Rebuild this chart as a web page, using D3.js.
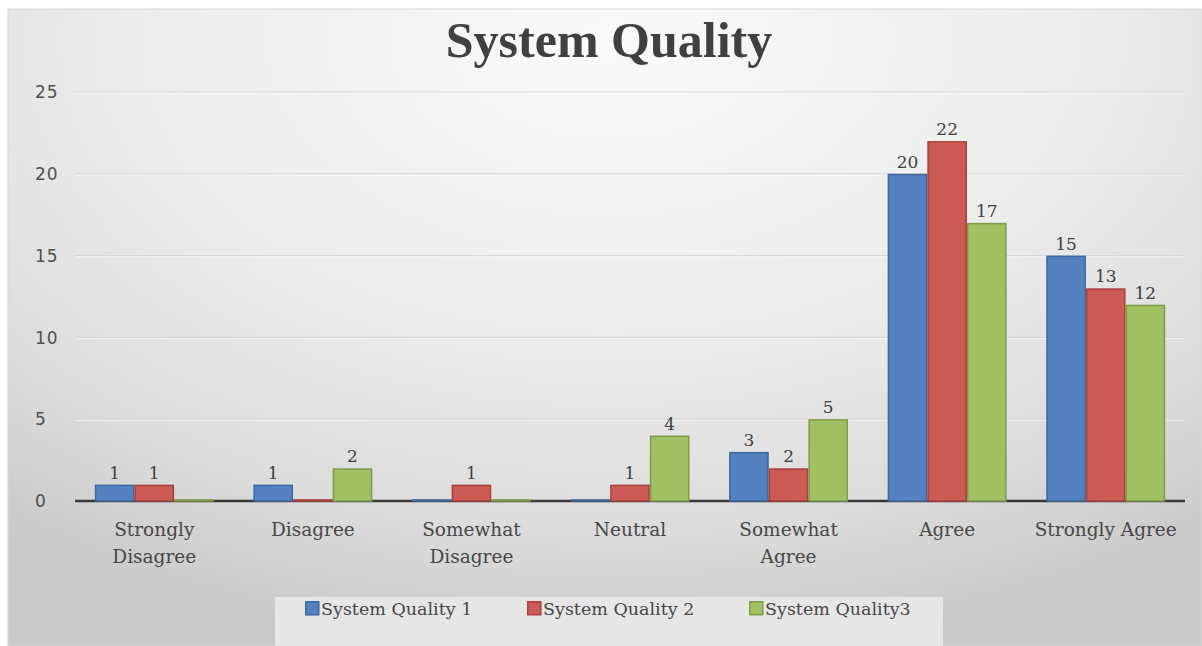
<!DOCTYPE html>
<html>
<head>
<meta charset="utf-8">
<script src="https://cdn.jsdelivr.net/npm/d3@7"></script>
<style>
  html, body { margin: 0; padding: 0; background: #fff; }
  svg { display: block; }
</style>
</head>
<body>
<svg id="chart" width="1202" height="646"></svg>
<script>
// Survey response counts per category, one series per question
const categories = ["Strongly Disagree", "Disagree", "Somewhat Disagree", "Neutral", "Somewhat Agree", "Agree", "Strongly Agree"];
const categoryLines = [["Strongly", "Disagree"], ["Disagree"], ["Somewhat", "Disagree"], ["Neutral"], ["Somewhat", "Agree"], ["Agree"], ["Strongly Agree"]];
const seriesNames = ["System Quality 1", "System Quality 2", "System Quality3"];
const quality1 = [1, 1, 0, 0, 3, 20, 15];
const quality2 = [1, 0, 1, 1, 2, 22, 13];
const quality3 = [0, 2, 0, 4, 5, 17, 12];
const yTicks = [0, 5, 10, 15, 20, 25];

const seriesValues = [quality1, quality2, quality3];
const fills = ["#5482c0", "#cc5a55", "#a1c063"];
const strokes = ["#3d679f", "#a8403c", "#7f9b46"];

const svg = d3.select("#chart");
const W = 1202, H = 646;

// background panel with soft elliptical shading, brightest near the title
const defs = svg.append("defs");
const grad = defs.append("radialGradient")
  .attr("id", "bg").attr("gradientUnits", "userSpaceOnUse")
  .attr("cx", 610).attr("cy", 40).attr("r", 620)
  .attr("fx", 610).attr("fy", 40)
  .attr("gradientTransform", "translate(610,40) scale(1.6,1) translate(-610,-40)");
grad.append("stop").attr("offset", "0").attr("stop-color", "#fafafa");
grad.append("stop").attr("offset", "0.5").attr("stop-color", "#ebebeb");
grad.append("stop").attr("offset", "0.8").attr("stop-color", "#dbdbdb");
grad.append("stop").attr("offset", "1").attr("stop-color", "#c9c9c9");

svg.append("rect").attr("x", 8).attr("y", 9).attr("width", W - 8).attr("height", H - 9)
  .attr("fill", "url(#bg)").attr("stroke", "#d8d8d8").attr("stroke-width", 1);

// plot area bounds and scales
const plotLeft = 75, plotRight = 1185, plotTop = 92, plotBottom = 501;
const x0 = d3.scaleBand().domain(categories).range([plotLeft, plotRight]).paddingInner(0.25).paddingOuter(0.125);
const x1 = d3.scaleBand().domain(seriesNames).range([0, x0.bandwidth()]);
const y = d3.scaleLinear().domain([0, 25]).range([plotBottom, plotTop]);

// gridlines
const grid = svg.append("g");
grid.selectAll("line.g").data(yTicks.filter(d => d > 0)).join("line").attr("class", "g")
  .attr("x1", plotLeft).attr("x2", plotRight)
  .attr("y1", d => y(d)).attr("y2", d => y(d))
  .attr("stroke", "#d6d6d6").attr("stroke-width", 1.2);
grid.selectAll("line.h").data(yTicks.filter(d => d > 0)).join("line").attr("class", "h")
  .attr("x1", plotLeft).attr("x2", plotRight)
  .attr("y1", d => y(d) + 1.2).attr("y2", d => y(d) + 1.2)
  .attr("stroke", "#ffffff").attr("stroke-opacity", 0.6).attr("stroke-width", 1);

// y tick labels
svg.append("g").selectAll("text").data(yTicks).join("text")
  .attr("x", 35).attr("y", d => y(d))
  .attr("dy", "0.36em")
  .attr("font-family", "DejaVu Sans, sans-serif").attr("font-size", 17)
  .attr("letter-spacing", 1)
  .attr("fill", "#505050")
  .text(d => d);

// axis baseline
svg.append("line").attr("x1", plotLeft).attr("x2", plotRight)
  .attr("y1", y(0)).attr("y2", y(0))
  .attr("stroke", "#383838").attr("stroke-width", 2.5);

// bars
const groups = svg.append("g").selectAll("g").data(categories).join("g")
  .attr("transform", d => `translate(${x0(d)},0)`);

groups.each(function (cat, ci) {
  const g = d3.select(this);
  seriesNames.forEach((s, si) => {
    const v = seriesValues[si][ci];
    const bx = x1(s), bw = x1.bandwidth();
    if (v > 0) {
      g.append("rect")
        .attr("x", bx + 0.75).attr("y", y(v) + 0.75)
        .attr("width", bw - 1.5).attr("height", y(0) - y(v) - 0.75)
        .attr("fill", fills[si]).attr("stroke", strokes[si]).attr("stroke-width", 1.5);
      g.append("text")
        .attr("x", bx + bw / 2).attr("y", y(v) - 6)
        .attr("text-anchor", "middle")
        .attr("font-family", "DejaVu Serif, serif").attr("font-size", 17)
        .attr("fill", "#404040")
        .text(v);
    } else {
      g.append("line")
        .attr("x1", bx).attr("x2", bx + bw)
        .attr("y1", y(0) - 0.5).attr("y2", y(0) - 0.5)
        .attr("stroke", strokes[si]).attr("stroke-width", 2.5);
    }
  });
});

// category labels
const catG = svg.append("g");
categories.forEach((c, i) => {
  const cx = x0(c) + x0.bandwidth() / 2;
  categoryLines[i].forEach((line, li) => {
    catG.append("text")
      .attr("x", cx).attr("y", 536 + li * 27)
      .attr("text-anchor", "middle")
      .attr("font-family", "DejaVu Serif, serif").attr("font-size", 18.5)
      .attr("fill", "#474747")
      .text(line);
  });
});

// title
svg.append("text")
  .attr("x", 609).attr("y", 57)
  .attr("text-anchor", "middle")
  .attr("font-family", "Liberation Serif, serif").attr("font-weight", "bold")
  .attr("font-size", 50)
  .attr("fill", "#404040")
  .text("System Quality");

// legend
const lg = svg.append("g");
lg.append("rect").attr("x", 275).attr("y", 597).attr("width", 668).attr("height", 49)
  .attr("fill", "#e6e6e6");
const item = lg.selectAll("g").data(seriesNames).join("g")
  .attr("transform", (d, i) => `translate(${305 + i * 222},601)`);
item.append("rect").attr("x", 0.75).attr("y", 0.75).attr("width", 13).attr("height", 13)
  .attr("fill", (d, i) => fills[i]).attr("stroke", (d, i) => strokes[i]).attr("stroke-width", 1.5);
item.append("text").attr("x", 16).attr("y", 13.5)
  .attr("font-family", "DejaVu Serif, serif").attr("font-size", 17.5)
  .attr("fill", "#474747")
  .text(d => d);
</script>
</body>
</html>
